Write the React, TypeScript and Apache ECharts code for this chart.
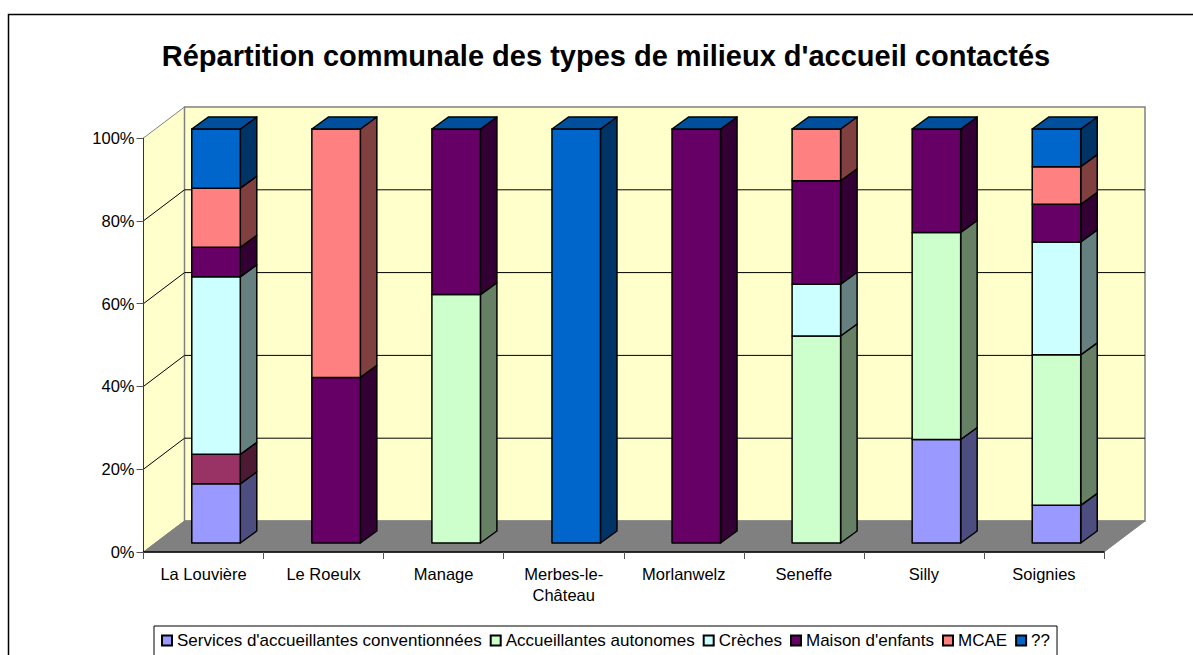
import React, { useEffect, useRef } from "react";
import * as echarts from "echarts";

const titleText = "Répartition communale des types de milieux d'accueil contactés";
const communes = ["La Louvière", "Le Roeulx", "Manage", "Merbes-le-\nChâteau", "Morlanwelz", "Seneffe", "Silly", "Soignies"];
const yTicks = [0, 20, 40, 60, 80, 100];

const services = [2, 0, 0, 0, 0, 0, 1, 1];
const sansLegende = [1, 0, 0, 0, 0, 0, 0, 0];
const autonomes = [0, 0, 3, 0, 0, 4, 2, 4];
const creches = [6, 0, 0, 0, 0, 1, 0, 3];
const maison = [1, 2, 2, 0, 1, 2, 1, 1];
const mcae = [2, 3, 0, 0, 0, 1, 0, 1];
const inconnu = [2, 0, 0, 1, 0, 0, 0, 1];

const seriesDefs = [
  { name: "Services d'accueillantes conventionnées", color: "#9999FF", values: services },
  { name: "Autre", color: "#993366", values: sansLegende },
  { name: "Accueillantes autonomes", color: "#CCFFCC", values: autonomes },
  { name: "Crèches", color: "#CCFFFF", values: creches },
  { name: "Maison d'enfants", color: "#660066", values: maison },
  { name: "MCAE", color: "#FF8080", values: mcae },
  { name: "??", color: "#0066CC", values: inconnu },
];
const legendNames = seriesDefs.filter((s) => s.name !== "Autre").map((s) => s.name);

const WALL_DX = 41;
const WALL_DY = -31;
const BAR_OFF_X = 12.5;
const BAR_OFF_Y = -9;
const BAR_DX = 16.5;
const BAR_DY = -12;
const BAR_RATIO = 0.404;

const shade = (hex: string, k: number) => {
  const n = parseInt(hex.slice(1), 16);
  const c = (v: number) => Math.round(v * k);
  return `rgb(${c((n >> 16) & 255)},${c((n >> 8) & 255)},${c(n & 255)})`;
};

function makeOption() {
  const totals = communes.map((_, i) => seriesDefs.reduce((a, s) => a + s.values[i], 0));
  const running = communes.map(() => 0);

  const barSeries = seriesDefs.map((def, sIdx) => {
    const isLast = sIdx === seriesDefs.length - 1;
    const data = communes.map((_, i) => {
      const start = (running[i] / totals[i]) * 100;
      running[i] += def.values[i];
      const end = (running[i] / totals[i]) * 100;
      return [i, start, end];
    });
    return {
      type: "custom",
      name: def.name,
      z: 2,
      clip: false,
      itemStyle: { color: def.color, borderColor: "#000", borderWidth: 1 },
      encode: { x: 0, y: [1, 2] },
      data,
      renderItem: (_: any, api: any) => {
        const cat = api.value(0);
        const s = api.value(1);
        const e = api.value(2);
        const w = api.size([1, 0])[0] * BAR_RATIO;
        const p0 = api.coord([cat, s]);
        const p1 = api.coord([cat, e]);
        const xl = p0[0] - w / 2 + BAR_OFF_X;
        const xr = xl + w;
        const yb = p0[1] + BAR_OFF_Y;
        const yt = p1[1] + BAR_OFF_Y;
        const line = { stroke: "#000", lineWidth: 1.5, lineJoin: "round" };
        const children: any[] = [];
        if (e > s) {
          children.push({
            type: "polygon",
            shape: { points: [[xr, yb], [xr + BAR_DX, yb + BAR_DY], [xr + BAR_DX, yt + BAR_DY], [xr, yt]] },
            style: { fill: shade(def.color, 0.5), ...line },
          });
          children.push({
            type: "polygon",
            shape: { points: [[xl, yb], [xr, yb], [xr, yt], [xl, yt]] },
            style: { fill: def.color, ...line },
          });
        }
        if (isLast) {
          children.push({
            type: "polygon",
            shape: { points: [[xl, yt], [xr, yt], [xr + BAR_DX, yt + BAR_DY], [xl + BAR_DX, yt + BAR_DY]] },
            style: { fill: shade(def.color, 0.77), ...line },
          });
        }
        return { type: "group", children };
      },
    };
  });

  const wallSeries = {
    type: "custom",
    name: "walls",
    z: 0,
    silent: true,
    clip: false,
    data: [[0, 0]],
    renderItem: (params: any, api: any) => {
      const n = communes.length;
      const half = api.size([1, 0])[0] / 2;
      const l = api.coord([0, 0])[0] - half;
      const r = api.coord([n - 1, 0])[0] + half;
      const b = api.coord([0, 0])[1];
      const t = api.coord([0, 100])[1];
      const gray = { stroke: "#808080", lineWidth: 1.5 };
      const children: any[] = [
        {
          type: "polygon",
          shape: { points: [[l, t], [l + WALL_DX, t + WALL_DY], [l + WALL_DX, b + WALL_DY], [l, b]] },
          style: { fill: "#FFFFCC", stroke: "#808080", lineWidth: 1 },
        },
        {
          type: "polygon",
          shape: { points: [[l + WALL_DX, t + WALL_DY], [r + WALL_DX, t + WALL_DY], [r + WALL_DX, b + WALL_DY], [l + WALL_DX, b + WALL_DY]] },
          style: { fill: "#FFFFCC", ...gray },
        },
        {
          type: "polygon",
          shape: { points: [[l, b], [r, b], [r + WALL_DX, b + WALL_DY], [l + WALL_DX, b + WALL_DY]] },
          style: { fill: "#808080", stroke: "#808080", lineWidth: 1 },
        },
      ];
      yTicks.slice(1, -1).forEach((v) => {
        const y = api.coord([0, v])[1];
        children.push({
          type: "polyline",
          shape: { points: [[l, y], [l + WALL_DX, y + WALL_DY], [r + WALL_DX, y + WALL_DY]] },
          style: { fill: "none", stroke: "#000", lineWidth: 1 },
        });
      });
      return { type: "group", children };
    },
  };

  return {
    animation: false,
    backgroundColor: "#fff",
    title: {
      text: titleText,
      left: 601,
      top: 36,
      textAlign: "center",
      textStyle: { fontFamily: "Liberation Sans", fontSize: 29, fontWeight: "bold", color: "#000" },
    },
    graphic: [
      {
        type: "rect",
        silent: true,
        z: -1,
        shape: { x: 8.5, y: 14.5, width: 1300, height: 800 },
        style: { fill: "none", stroke: "#000", lineWidth: 1.5 },
      },
    ],
    grid: { left: 143.5, top: 138, width: 960.5, height: 414 },
    legend: {
      data: legendNames,
      left: 154,
      top: 626,
      orient: "horizontal",
      selectedMode: false,
      itemWidth: 10,
      itemHeight: 10,
      itemGap: 8,
      padding: [6, 7, 20, 7],
      borderColor: "#000",
      borderWidth: 1,
      backgroundColor: "#fff",
      icon: "rect",
      textStyle: { fontFamily: "Liberation Sans", fontSize: 17, color: "#000" },
    },
    xAxis: {
      type: "category",
      data: communes,
      z: 1,
      axisLine: { lineStyle: { color: "#000", width: 1.5 } },
      axisTick: { show: true, length: 7, alignWithLabel: false, lineStyle: { color: "#555", width: 1 } },
      axisLabel: { interval: 0, margin: 11, lineHeight: 21, fontFamily: "Liberation Sans", fontSize: 16.5, color: "#000" },
      splitLine: { show: false },
    },
    yAxis: {
      type: "value",
      min: 0,
      max: 100,
      interval: 20,
      z: 1,
      axisLine: { show: true, lineStyle: { color: "#333", width: 1 } },
      axisTick: { show: true, length: 7, lineStyle: { color: "#555", width: 1 } },
      axisLabel: { margin: 9, formatter: "{value}%", fontFamily: "Liberation Sans", fontSize: 16.5, color: "#000" },
      splitLine: { show: false },
    },
    series: [wallSeries, ...barSeries],
  };
}

export default function App() {
  const ref = useRef<HTMLDivElement>(null);
  useEffect(() => {
    const chart = echarts.init(ref.current!, undefined, { renderer: "svg" });
    chart.setOption(makeOption() as any);
    return () => chart.dispose();
  }, []);
  return <div ref={ref} style={{ position: "absolute", left: 0, top: 0, width: 1193, height: 655, overflow: "hidden" }} />;
}
